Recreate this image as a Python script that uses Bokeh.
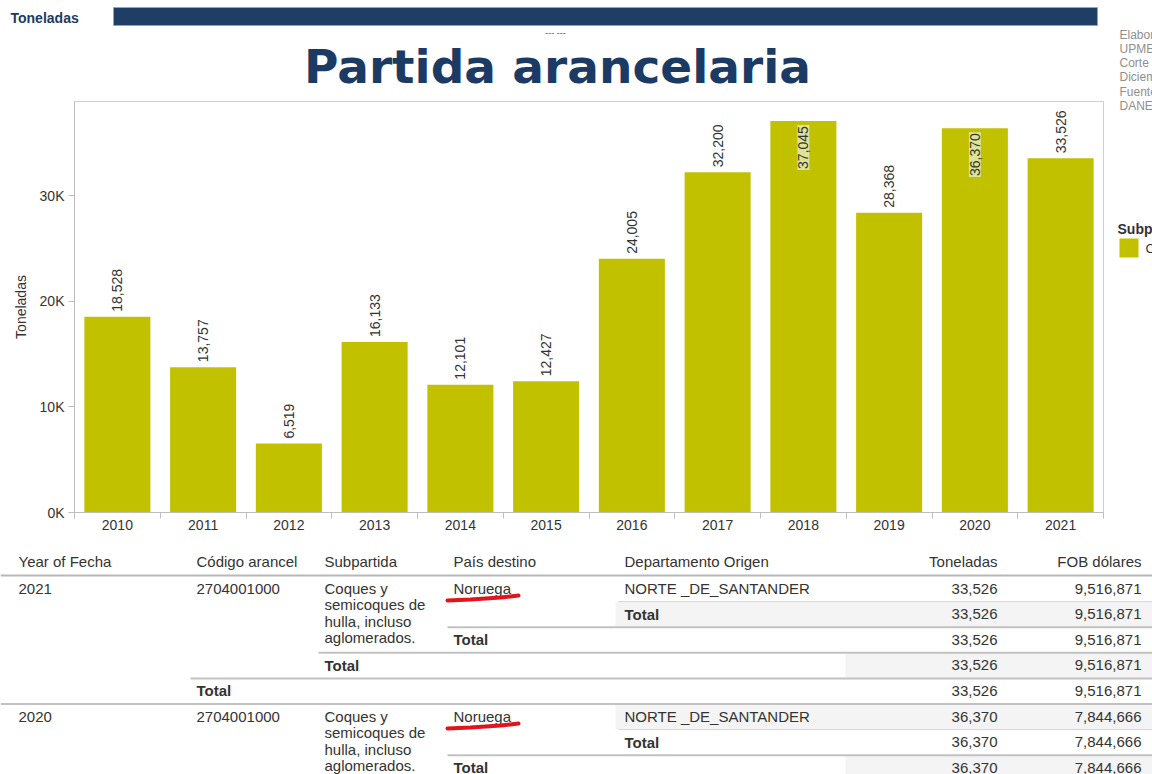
import math
from bokeh.plotting import figure
from bokeh.layouts import column, row
from bokeh.models import Range1d, FixedTicker
from bokeh.core.properties import value
from bokeh.embed import file_html
from bokeh.resources import INLINE

# ---------------- data ----------------
years = ["2010", "2011", "2012", "2013", "2014", "2015",
         "2016", "2017", "2018", "2019", "2020", "2021"]
toneladas = [18528, 13757, 6519, 16133, 12101, 12427,
             24005, 32200, 37045, 28368, 36370, 33526]
y_ticks = [0, 10000, 20000, 30000]
y_tick_labels = ["0K", "10K", "20K", "30K"]

title_text = "Partida arancelaria"
header_label = "Toneladas"
side_notes = ["Elaborado por:", "UPME", "Corte", "Diciembre", "Fuente:", "DANE"]
legend_title = "Subpartida"

table_headers = ["Year of Fecha", "Código arancel", "Subpartida", "País destino",
                 "Departamento Origen", "Toneladas", "FOB dólares"]
table_years = ["2021", "2020"]
table_codes = ["2704001000", "2704001000"]
subpartida_lines = ["Coques y", "semicoques de", "hulla, incluso", "aglomerados."]
table_pais = ["Noruega", "Noruega"]
table_depto = ["NORTE _DE_SANTANDER", "NORTE _DE_SANTANDER"]
table_ton = [33526, 36370]
table_fob = [9516871, 7844666]

# ---------------- style ----------------
BAR = "#c1c100"
NAVY = "#1b3b64"
TXT = "#333333"
AX = "#bdbdbd"
F = value("Liberation Sans")
W_LEFT = 1110   # width of header / chart column
W_SIDE = 42
W_ALL = W_LEFT + W_SIDE
H_ALL = 774


def blank(w, h, x0, x1, y_top, y_bottom):
    f = figure(width=w, height=h, x_range=Range1d(x0, x1),
               y_range=Range1d(y_bottom, y_top), x_axis_type=None, y_axis_type=None,
               output_backend="svg", toolbar_location=None, min_border=0)
    f.grid.visible = False
    f.outline_line_color = None
    return f


# ---------------- header ----------------
hdr = blank(W_LEFT, 100, 0, W_LEFT, 0, 100)
hdr.text(x=[10], y=[17], text=[header_label], text_font=F, text_font_style="bold",
         text_font_size="14px", text_color=NAVY, text_baseline="middle")
hdr.quad(left=[113], right=[1097], top=[7], bottom=[25], fill_color="#1f3e65",
         line_color="#9aa4ae", line_width=1)
hdr.text(x=[555], y=[32], text=["--- ---"], text_font=F, text_font_size="9px",
         text_color="#555555", text_align="center", text_baseline="middle")
hdr.text(x=[557], y=[66], text=[title_text], text_font=value("DejaVu Sans"),
         text_font_style="bold", text_font_size="47px", text_color=NAVY,
         text_align="center", text_baseline="middle")

# ---------------- chart ----------------
n = len(years)
centers = [i + 0.5 for i in range(n)]
chart = figure(width=W_LEFT, height=440, x_range=Range1d(0, n), y_range=Range1d(0, 38900),
               output_backend="svg", toolbar_location=None,
               min_border_left=74, min_border_right=7, min_border_top=1, min_border_bottom=28)
chart.vbar(x=centers, top=toneladas, width=0.77, fill_color=BAR, line_color=None)

inside_limit = 35000
out_i = [i for i, v in enumerate(toneladas) if v <= inside_limit]
in_i = [i for i, v in enumerate(toneladas) if v > inside_limit]
chart.text(x=[centers[i] for i in out_i], y=[toneladas[i] for i in out_i],
           text=[f"{toneladas[i]:,}" for i in out_i], angle=math.pi / 2,
           text_align="left", text_baseline="middle", y_offset=-5,
           text_font=F, text_font_size="14px", text_color=TXT)
chart.text(x=[centers[i] for i in in_i], y=[toneladas[i] for i in in_i],
           text=[f"{toneladas[i]:,}" for i in in_i], angle=math.pi / 2,
           text_align="right", text_baseline="middle", y_offset=4,
           text_font=F, text_font_size="14px", text_color=TXT,
           background_fill_color="#dfe396", padding=1)

chart.grid.visible = False
chart.outline_line_color = "#cfcfcf"
xa = chart.xaxis[0]
xa.ticker = FixedTicker(ticks=centers, minor_ticks=list(range(n + 1)))
xa.major_label_overrides = {c: y for c, y in zip(centers, years)}
xa.major_tick_line_color = None
xa.major_tick_out = 0
xa.major_tick_in = 0
xa.minor_tick_line_color = AX
xa.minor_tick_out = 6
xa.minor_tick_in = 0
xa.major_label_standoff = 1
ya = chart.yaxis[0]
ya.ticker = FixedTicker(ticks=y_ticks)
ya.major_label_overrides = {t: l for t, l in zip(y_ticks, y_tick_labels)}
ya.major_tick_line_color = AX
ya.major_tick_out = 6
ya.major_tick_in = 0
ya.minor_tick_line_color = None
ya.major_label_standoff = 4
ya.axis_label = "Toneladas"
ya.axis_label_text_font = "Liberation Sans"
ya.axis_label_text_font_style = "normal"
ya.axis_label_text_font_size = "14px"
ya.axis_label_text_color = TXT
ya.axis_label_standoff = 8
for ax in (xa, ya):
    ax.axis_line_color = AX
    ax.major_label_text_font = "Liberation Sans"
    ax.major_label_text_font_size = "14px"
    ax.major_label_text_color = TXT

# ---------------- side panel (notes + legend) ----------------
side = blank(W_SIDE, 540, W_LEFT, W_ALL, 0, 540)
side.text(x=[1119] * len(side_notes), y=[34 + 14.3 * i for i in range(len(side_notes))],
          text=side_notes, text_font=F, text_font_size="12px", text_color="#8f8f8f",
          text_baseline="middle")
side.text(x=[1117], y=[228], text=[legend_title], text_font=F, text_font_style="bold",
          text_font_size="14px", text_color=TXT, text_baseline="middle")
side.quad(left=[1119], right=[1138], top=[238], bottom=[257], fill_color=BAR, line_color=None)
side.text(x=[1145], y=[248], text=["Coques y semicoques de hulla"], text_font=F,
          text_font_size="13px", text_color=TXT, text_baseline="middle")

# ---------------- table ----------------
TB_TOP = 540
tb = blank(W_ALL, H_ALL - TB_TOP, 0, W_ALL, TB_TOP, H_ALL)
col_left = [18, 196, 324, 453, 624]
col_right = [997, 1141]
header_y = 561
row_top0 = 575.5
row_h = 25.6
rows_per_block = 5

band_l, band_t, band_b = [], [], []
lx0, lx1, ly, lw, lc = [], [], [], [], []
norm_x, norm_y, norm_t = [], [], []
bold_x, bold_y = [], []
num_x, num_y, num_t = [], [], []
red_xs, red_ys = [], []
for b, yr in enumerate(table_years):
    top_b = row_top0 + b * rows_per_block * row_h
    cy0 = top_b + 12.5
    norm_x += [col_left[0], col_left[1], col_left[3], col_left[4]]
    norm_y += [cy0] * 4
    norm_t += [yr, table_codes[b], table_pais[b], table_depto[b]]
    for k, s in enumerate(subpartida_lines):
        norm_x.append(col_left[2])
        norm_y.append(cy0 + 16.4 * k)
        norm_t.append(s)
    red_xs.append([col_left[3] + d for d in (-6, 17, 47, 65)])
    red_ys.append([cy0 + d for d in (12, 11, 9, 7)])
    for r in range(rows_per_block):
        g = b * rows_per_block + r
        top = top_b + r * row_h
        if top >= H_ALL:          # rows below the visible page are not drawn
            continue
        cy = top + 12.5
        if g % 2 == 1:
            band_l.append(615 if r <= 1 else 845)
            band_t.append(top)
            band_b.append(top + row_h)
        if r >= 1:
            bold_x.append(col_left[5 - r])
            bold_y.append(cy)
        num_x += col_right
        num_y += [cy, cy]
        num_t += [f"{table_ton[b]:,}", f"{table_fob[b]:,}"]
        start = col_left[4] - 6 if r == 0 else (col_left[4 - r] - 6 if r < 4 else 0)
        lx0.append(start)
        lx1.append(W_ALL)
        ly.append(top + row_h)
        lw.append(1 if r == 0 else 2)
        lc.append("#d6d6d6" if r == 0 else "#c2c2c2")

tb.quad(left=band_l, right=[W_ALL] * len(band_l), top=band_t, bottom=band_b,
        fill_color="#f4f4f4", line_color=None)
tb.segment(x0=[0], x1=[W_ALL], y0=[575], y1=[575], line_color="#b8b8b8", line_width=2)
tb.segment(x0=lx0, x1=lx1, y0=ly, y1=ly, line_color=lc, line_width=lw)
tb.text(x=col_left, y=[header_y] * 5, text=table_headers[:5], text_font=F,
        text_font_size="15px", text_color=TXT, text_baseline="middle")
tb.text(x=col_right, y=[header_y] * 2, text=table_headers[5:], text_font=F,
        text_font_size="15px", text_color=TXT, text_baseline="middle", text_align="right")
tb.text(x=norm_x, y=norm_y, text=norm_t, text_font=F, text_font_size="15px",
        text_color=TXT, text_baseline="middle")
tb.text(x=bold_x, y=bold_y, text=["Total"] * len(bold_x), text_font=F,
        text_font_style="bold", text_font_size="15px", text_color=TXT, text_baseline="middle")
tb.text(x=num_x, y=num_y, text=num_t, text_font=F, text_font_size="15px",
        text_color=TXT, text_baseline="middle", text_align="right")
tb.multi_line(xs=red_xs, ys=red_ys, line_color="#e3121b", line_width=4, line_cap="round")

layout = column(row(column(row(hdr, spacing=0), chart, spacing=0), side, spacing=0),
                tb, spacing=0)
open("out.html", "w").write(file_html(layout, INLINE))
